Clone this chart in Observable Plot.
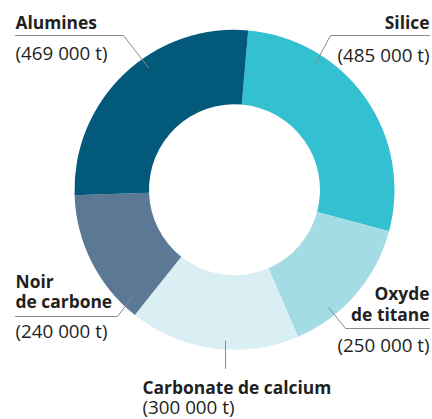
<!DOCTYPE html>
<html><head><meta charset="utf-8">
<script src="https://cdn.jsdelivr.net/npm/d3@7"></script>
<script src="https://cdn.jsdelivr.net/npm/@observablehq/plot@0.6"></script>
<style>body{margin:0;background:#fff}</style>
</head><body><div id="chart"></div>
<script>
// Data
const categories = ["Silice", "Oxyde de titane", "Carbonate de calcium", "Noir de carbone", "Alumines"];
const tonnes = [485000, 250000, 300000, 240000, 469000];
const colors = ["#33c1d1", "#a3dce5", "#daeff3", "#5b7894", "#03597a"];
const nameLines = [["Silice"], ["Oxyde", "de titane"], ["Carbonate de calcium"], ["Noir", "de carbone"], ["Alumines"]];
const valueLabels = ["(485 000 t)", "(250 000 t)", "(300 000 t)", "(240 000 t)", "(469 000 t)"];

// Layout (label placement, not data)
const W = 432, H = 419;
const cx = 234.5, cy = 189.8, R = 160, r0 = 85.5;
const startDeg = 4.9;
const labelLayout = [
  {x: 429, ys: [28], vy: 61, anchor: "end", elbowX: 330, elbowY: 35, endX: 429, ang: 32.4, rad: 150},
  {x: 429, ys: [299, 320], vy: 351, anchor: "end", elbowX: 345, elbowY: 328, endX: 429, ang: 141.4, rad: 150},
  {x: 142, ys: [393], vy: 413, anchor: "start", elbowX: 225, elbowY: 368, endX: null, ang: 183.6, rad: 151},
  {x: 15, ys: [287, 307], vy: 337, anchor: "start", elbowX: 117, elbowY: 316, endX: 15, ang: 224, rad: 147},
  {x: 15, ys: [28], vy: 59, anchor: "start", elbowX: 123, elbowY: 35, endX: 15, ang: 324.8, rad: 150}
];

const table = categories.map((c, i) => ({name: c, value: tonnes[i], color: colors[i]}));
const pie = d3.pie().sort(null).value(d => d.value)
  .startAngle(startDeg * Math.PI / 180).endAngle((startDeg + 360) * Math.PI / 180);
const arcs = pie(table);
const arcGen = d3.arc().innerRadius(r0).outerRadius(R);

const textRows = [];
nameLines.forEach((lines, i) => {
  const L = labelLayout[i];
  lines.forEach((t, j) => textRows.push({x: L.x, y: L.ys[j], text: t, anchor: L.anchor, bold: true}));
  textRows.push({x: L.x, y: L.vy, text: valueLabels[i], anchor: L.anchor, bold: false});
});

const leaders = [];
labelLayout.forEach((L, i) => {
  const a = L.ang * Math.PI / 180;
  const px = cx + L.rad * Math.sin(a), py = cy - L.rad * Math.cos(a);
  if (L.endX !== null) leaders.push({k: i, x: L.endX, y: L.elbowY});
  leaders.push({k: i, x: L.elbowX, y: L.elbowY});
  leaders.push({k: i, x: px, y: py});
});

const donut = () => {
  const g = d3.create("svg:g").attr("transform", `translate(${cx},${cy})`);
  g.selectAll("path").data(arcs).join("path")
    .attr("d", arcGen).attr("fill", d => d.data.color);
  return g.node();
};

const textMarks = [];
for (const anchor of ["start", "end"]) {
  for (const bold of [true, false]) {
    textMarks.push(Plot.text(textRows.filter(d => d.anchor === anchor && d.bold === bold), {
      x: "x", y: "y", text: "text", textAnchor: anchor, lineAnchor: "bottom",
      fontSize: bold ? 17.4 : 18.8, fontWeight: bold ? 700 : 400, fill: "#231f20"
    }));
  }
}

const plot = Plot.plot({
  width: W, height: H, margin: 0,
  x: {type: "identity", axis: null}, y: {type: "identity", axis: null},
  style: {fontFamily: "'Open Sans', sans-serif", background: "#fff"},
  marks: [
    donut,
    Plot.line(leaders, {x: "x", y: "y", z: "k", stroke: "#8a8a8a", strokeWidth: 1}),
    ...textMarks
  ]
});
document.getElementById("chart").appendChild(plot);
</script></body></html>
